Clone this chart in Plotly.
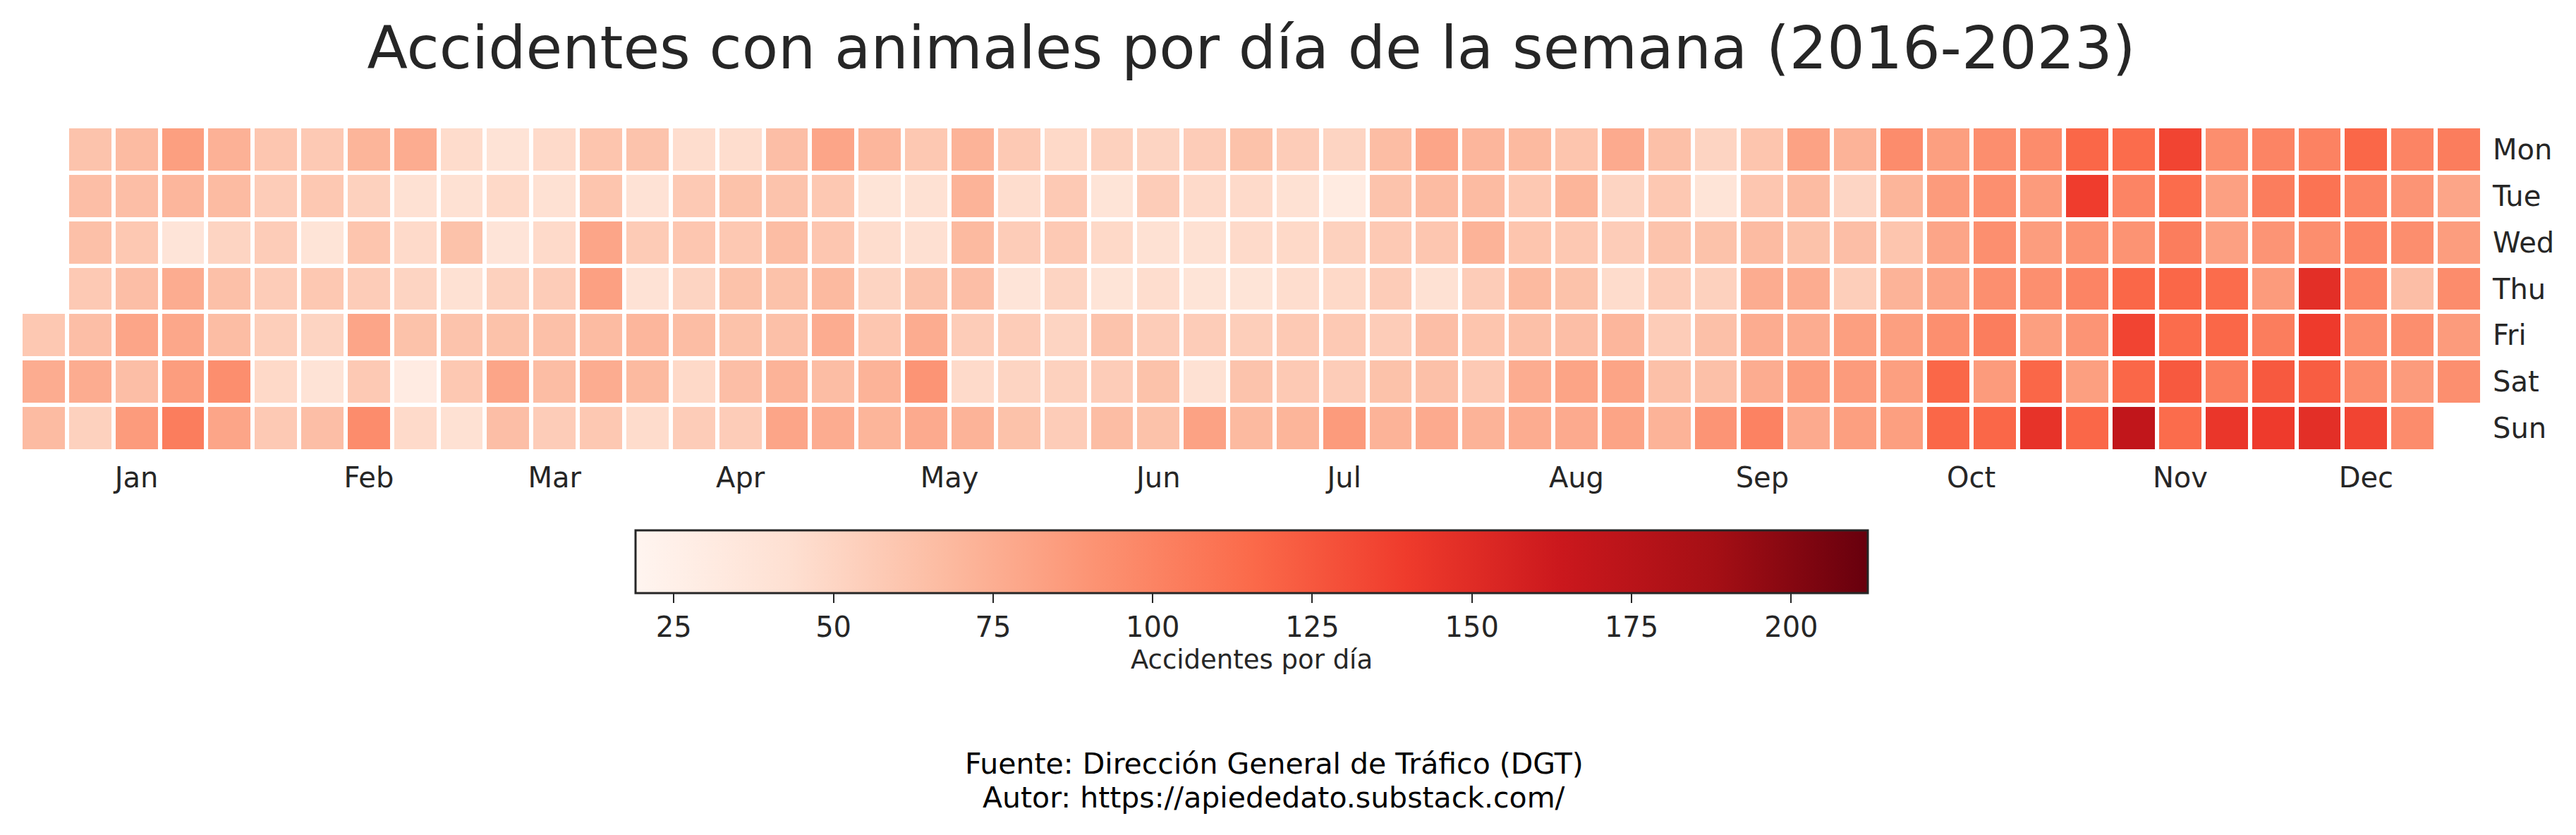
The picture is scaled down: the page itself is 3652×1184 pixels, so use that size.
import datetime
import plotly.graph_objects as go

# Accidents per day, one list per weekday, one entry per week column of 2016 (None = no day)
mon = [None, 62, 67, 84, 73, 60, 58, 71, 76, 46, 40, 47, 61, 62,
       45, 45, 65, 80, 70, 59, 72, 58, 48, 53, 51, 56, 63,
       56, 51, 66, 80, 70, 68, 61, 77, 64, 51, 61, 82, 72,
       95, 84, 94, 95, 117, 114, 135, 94, 100, 101, 117, 100, 104]
tue = [None, 65, 65, 70, 67, 56, 59, 53, 42, 42, 48, 42, 61, 41,
       58, 63, 62, 59, 39, 42, 72, 45, 58, 39, 56, 47, 47,
       42, 31, 62, 67, 67, 59, 71, 51, 59, 39, 60, 67, 50,
       71, 86, 93, 86, 139, 100, 114, 83, 104, 110, 100, 90, 80]
wed = [None, 64, 59, 38, 51, 56, 39, 61, 47, 63, 38, 47, 80, 57,
       60, 59, 66, 60, 45, 43, 68, 56, 58, 48, 42, 42, 47,
       48, 53, 58, 60, 72, 61, 59, 56, 62, 63, 67, 63, 65,
       61, 80, 93, 85, 91, 91, 104, 83, 90, 94, 100, 94, 85]
thu = [None, 58, 65, 76, 64, 56, 59, 56, 51, 42, 53, 56, 83, 41,
       51, 63, 63, 68, 51, 62, 65, 38, 51, 39, 45, 39, 39,
       45, 48, 56, 42, 56, 68, 63, 46, 56, 53, 76, 76, 55,
       72, 80, 93, 93, 100, 117, 117, 114, 86, 148, 100, 65, 95]
fri = [59, 65, 80, 79, 66, 55, 51, 80, 63, 62, 63, 64, 67, 70,
       66, 63, 64, 76, 60, 76, 56, 56, 51, 62, 56, 56, 55,
       58, 58, 56, 65, 61, 64, 65, 70, 56, 64, 76, 76, 84,
       84, 93, 104, 84, 90, 135, 114, 117, 104, 140, 95, 94, 86]
sat = [76, 76, 65, 85, 94, 48, 40, 58, 30, 59, 80, 66, 76, 68,
       48, 65, 72, 66, 72, 90, 47, 51, 53, 56, 63, 42, 62,
       58, 56, 63, 64, 58, 76, 81, 81, 64, 64, 76, 85, 86,
       84, 117, 86, 117, 84, 117, 124, 104, 124, 122, 95, 86, 93]
sun = [67, 53, 86, 104, 80, 58, 65, 95, 47, 42, 65, 56, 59, 46,
       56, 56, 80, 76, 71, 77, 72, 63, 56, 66, 63, 82, 68,
       71, 86, 72, 77, 72, 76, 77, 81, 72, 90, 101, 77, 84,
       84, 117, 117, 145, 117, 170, 114, 143, 140, 148, 135, 95, None]

days = ["Mon", "Tue", "Wed", "Thu", "Fri", "Sat", "Sun"]
months = ["Jan", "Feb", "Mar", "Apr", "May", "Jun",
          "Jul", "Aug", "Sep", "Oct", "Nov", "Dec"]
cbar_ticks = [25, 50, 75, 100, 125, 150, 175, 200]

YEAR = 2016
ZMIN, ZMAX = 19, 212
W, H = 3652, 1184

# week column of a date (weeks start on Monday)
jan1 = datetime.date(YEAR, 1, 1)
def week_of(d):
    return (d.toordinal() - jan1.toordinal() + jan1.weekday()) // 7

month_pos = []
for m in range(1, 13):
    first = datetime.date(YEAR, m, 1)
    nxt = datetime.date(YEAR + (m == 12), m % 12 + 1, 1)
    last = nxt - datetime.timedelta(days=1)
    month_pos.append((week_of(first) + week_of(last)) / 2)

reds = [[0.0, "#fff5f0"], [0.125, "#fee0d2"], [0.25, "#fcbba1"],
        [0.375, "#fc9272"], [0.5, "#fb6a4a"], [0.625, "#ef3b2c"],
        [0.75, "#cb181d"], [0.875, "#a50f15"], [1.0, "#67000d"]]

z = [mon, tue, wed, thu, fri, sat, sun]

fig = go.Figure(go.Heatmap(
    z=z,
    x=list(range(len(mon))),
    y=list(range(7)),
    colorscale=reds,
    zmin=ZMIN, zmax=ZMAX,
    xgap=6, ygap=6,
    hoverongaps=False,
    colorbar=dict(
        orientation="h",
        x=1774.5 / W, xanchor="center",
        y=1 - 752 / H, yanchor="top",
        len=1747, lenmode="pixels",
        thickness=89, thicknessmode="pixels",
        xpad=0, ypad=0,
        outlinewidth=3, outlinecolor="#262626",
        ticks="outside", ticklen=13, tickwidth=2, tickcolor="#262626",
        tickvals=cbar_ticks,
        tickfont=dict(size=40, color="#262626"),
        title=dict(text="Accidentes por día", side="bottom",
                   font=dict(size=37, color="#262626")),
    ),
))

footer = ["Fuente: Dirección General de Tráfico (DGT)",
          "Autor: https://apiededato.substack.com/"]

fig.update_layout(
    width=W, height=H,
    margin=dict(l=0, r=0, t=0, b=0),
    paper_bgcolor="white",
    plot_bgcolor="white",
    font=dict(family="DejaVu Sans", color="#262626"),
    title=dict(text="Accidentes con animales por día de la semana (2016-2023)",
               x=1774 / W, xanchor="center",
               y=1 - 68 / H, yanchor="middle",
               font=dict(size=84, color="#262626")),
    xaxis=dict(
        domain=[29 / W, 3519 / W],
        range=[-0.5, 52.5],
        tickvals=month_pos, ticktext=months,
        ticks="", showgrid=False, zeroline=False, showline=False,
        ticklabelstandoff=10,
        tickfont=dict(size=40, color="#262626"),
    ),
    yaxis=dict(
        domain=[1 - 640 / H, 1 - 179 / H],
        range=[6.5, -0.5],
        tickvals=list(range(7)), ticktext=days,
        side="right",
        ticks="", showgrid=False, zeroline=False, showline=False,
        ticklabelstandoff=14,
        tickfont=dict(size=40, color="#262626"),
    ),
    annotations=[
        dict(text=line, x=1806 / W, y=1 - yc / H, xref="paper", yref="paper",
             xanchor="center", yanchor="middle", showarrow=False,
             font=dict(size=41, color="black"))
        for line, yc in zip(footer, [1083, 1131])
    ],
)

# drop the browser's default body margin so the figure sits at the page origin
fig.write_html("out.html", config={"displayModeBar": False},
               post_script="document.body.style.margin='0';")
